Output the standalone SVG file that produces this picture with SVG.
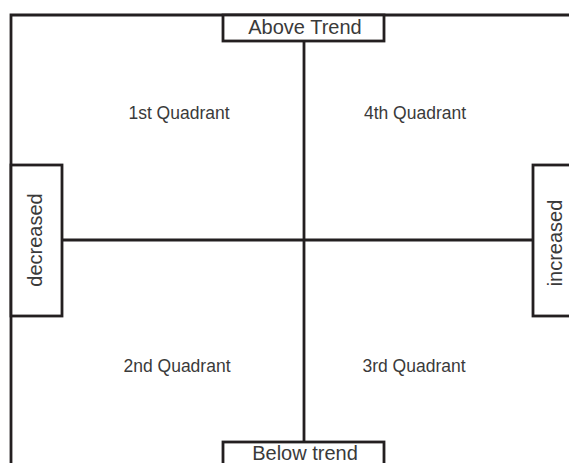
<svg xmlns="http://www.w3.org/2000/svg" width="569" height="463" viewBox="0 0 569 463">
<style>
.ln{stroke:#231f20;stroke-width:2.8;fill:none}
.bx{stroke:#231f20;stroke-width:2.8;fill:#fff}
.lb{font-family:"Liberation Sans",Arial,sans-serif;font-size:20px;fill:#3a3a3a;text-anchor:middle}
.q{font-family:"Liberation Sans",Arial,sans-serif;font-size:17.5px;fill:#3a3a3a;text-anchor:middle}
</style>
<rect width="569" height="463" fill="#fff"/>
<g id="frame">
<path class="ln" d="M11 463 V15 H569"/>
</g>
<g id="connectors">
<line class="ln" x1="304" y1="41" x2="304" y2="442"/>
<line class="ln" x1="62" y1="240" x2="533" y2="240"/>
</g>
<g id="above">
<rect class="bx" x="223" y="15" width="161" height="26"/>
<text class="lb" x="305" y="34">Above Trend</text>
</g>
<g id="below">
<rect class="bx" x="223" y="442" width="161" height="30"/>
<text class="lb" x="305" y="460">Below trend</text>
</g>
<g id="decreased">
<rect class="bx" x="11" y="165" width="51" height="151"/>
<text class="lb" transform="translate(42,240) rotate(-90)">decreased</text>
</g>
<g id="increased">
<rect class="bx" x="533" y="165" width="50" height="151"/>
<text class="lb" transform="translate(562,243) rotate(-90)">increased</text>
</g>
<g id="q1"><text class="q" x="179" y="119">1st Quadrant</text></g>
<g id="q4"><text class="q" x="415" y="119">4th Quadrant</text></g>
<g id="q2"><text class="q" x="177" y="372">2nd Quadrant</text></g>
<g id="q3"><text class="q" x="414" y="372">3rd Quadrant</text></g>
</svg>
